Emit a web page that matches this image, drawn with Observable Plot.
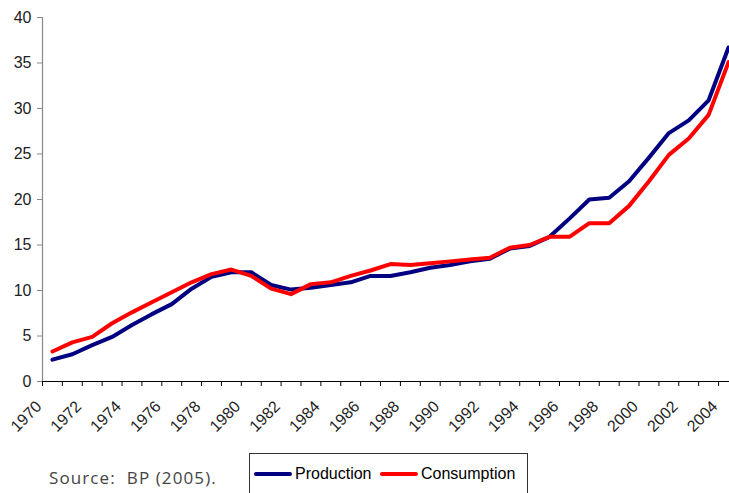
<!DOCTYPE html>
<html>
<head>
<meta charset="utf-8">
<script src="https://cdn.jsdelivr.net/npm/d3@7"></script>
<script src="https://cdn.jsdelivr.net/npm/@observablehq/plot@0.6"></script>
<style>
  html, body { margin: 0; padding: 0; background: #fff; }
  #wrap { position: relative; width: 729px; height: 493px; overflow: hidden; font-family: "Liberation Sans", Arial, sans-serif; }
  #chart { position: absolute; left: 0; top: 0; }
  #source { position: absolute; left: 49px; top: 466px; font-family: "Open Sans", "DejaVu Sans", sans-serif; font-size: 17px; letter-spacing: 1.1px; color: #444; white-space: pre; }
  #legend { position: absolute; left: 249px; top: 453px; width: 279px; height: 50px; border: 1px solid #333; box-sizing: border-box; }
  .item { position: absolute; top: 11px; display: flex; align-items: center; font-size: 16px; color: #000; }
  .swatch { display: inline-block; width: 38px; height: 4px; border-radius: 2px; margin-right: 3px; }
</style>
</head>
<body>
<div id="wrap">
  <div id="chart"></div>
  <div id="source">Source:  BP (2005).</div>
  <div id="legend"></div>
</div>
<script>
const years = [1970,1971,1972,1973,1974,1975,1976,1977,1978,1979,1980,1981,1982,1983,1984,1985,1986,1987,1988,1989,1990,1991,1992,1993,1994,1995,1996,1997,1998,1999,2000,2001,2002,2003,2004];
const production = [2.4,3.0,4.0,4.9,6.2,7.4,8.5,10.2,11.5,12.0,12.0,10.6,10.1,10.3,10.6,10.9,11.6,11.6,12.0,12.5,12.8,13.2,13.5,14.6,14.9,15.9,17.9,20.0,20.2,22.0,24.6,27.3,28.7,30.9,36.7];
const consumption = [3.3,4.3,4.9,6.4,7.6,8.7,9.8,10.9,11.8,12.3,11.6,10.2,9.6,10.7,10.9,11.6,12.2,12.9,12.8,13.0,13.2,13.4,13.6,14.7,15.0,15.9,15.9,17.4,17.4,19.3,22.0,24.9,26.7,29.3,35.1];
const yTicks = [0,5,10,15,20,25,30,35,40];
const xLabelYears = [1970,1972,1974,1976,1978,1980,1982,1984,1986,1988,1990,1992,1994,1996,1998,2000,2002,2004];
const seriesNames = ["Production", "Consumption"];
const seriesColors = ["#000080", "#ff0000"];

const table = years.map((year, i) => ({year, production: production[i], consumption: consumption[i]}));
const boundaries = years.map(y => y - 0.5);

const chart = Plot.plot({
  width: 729,
  height: 445,
  marginLeft: 42,
  marginRight: 0,
  marginTop: 17,
  marginBottom: 64,
  style: {fontFamily: "Liberation Sans, Arial, sans-serif", fontSize: "16px", color: "#222", overflow: "visible"},
  x: {domain: [1969.5, 2004.05]},
  y: {domain: [0, 40]},
  marks: [
    Plot.axisY(yTicks, {tickSize: 5, tickPadding: 6, fontSize: 16, stroke: "#888", label: null, fill: "#222"}),
    Plot.ruleX([1969.5], {stroke: "#888", strokeWidth: 1.2}),
    Plot.axisX(boundaries, {tickSize: 5, tickFormat: () => "", label: null, stroke: "#000"}),
    Plot.ruleY([0], {stroke: "#000", strokeWidth: 1}),
    Plot.text(xLabelYears, {x: d => d - 0.5, frameAnchor: "bottom", text: d => String(d), rotate: -45, textAnchor: "end", dx: 0, dy: 26, fontSize: 16, fill: "#222"}),
    Plot.line(table, {x: "year", y: "production", stroke: seriesColors[0], strokeWidth: 4, strokeLinejoin: "round", strokeLinecap: "round"}),
    Plot.line(table, {x: "year", y: "consumption", stroke: seriesColors[1], strokeWidth: 4, strokeLinejoin: "round", strokeLinecap: "round"})
  ]
});
document.getElementById("chart").appendChild(chart);

const legend = document.getElementById("legend");
const lefts = [4, 130];
seriesNames.forEach((name, i) => {
  const item = document.createElement("div");
  item.className = "item";
  item.style.left = lefts[i] + "px";
  const sw = document.createElement("span");
  sw.className = "swatch";
  sw.style.background = seriesColors[i];
  item.appendChild(sw);
  item.appendChild(document.createTextNode(name));
  legend.appendChild(item);
});
</script>
</body>
</html>
